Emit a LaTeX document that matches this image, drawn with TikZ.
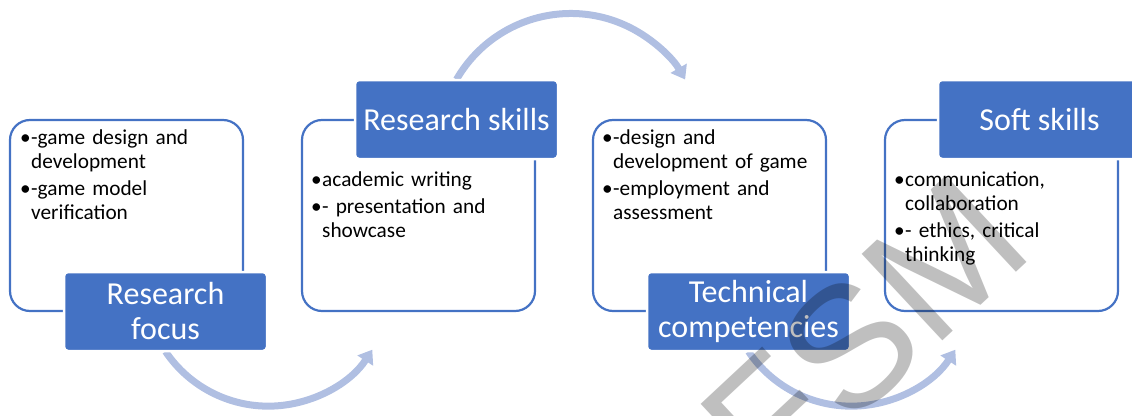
\documentclass[tikz,border=0pt]{standalone}
\usepackage{fontspec}
\setmainfont{Carlito}
\newfontfamily\wmfont{Liberation Sans}
\usetikzlibrary{arrows.meta, positioning}
\definecolor{accentblue}{HTML}{4472C4}
\definecolor{arcblue}{HTML}{B0BFE2}
\newcommand{\bitem}[1]{\hangindent=11pt\hangafter=1\noindent\makebox[11pt][l]{\textbullet}#1\par}

\begin{document}
\begin{tikzpicture}[x=1pt, y=1pt,
    panel/.style={rectangle, rounded corners=20pt, draw=accentblue, line width=2.2pt, minimum width=233pt, minimum height=191pt},
    label/.style={rectangle, rounded corners=4pt, fill=accentblue, draw=white, line width=2.5pt, minimum width=203pt, minimum height=79pt, text=white, align=center, font=\fontsize{32}{35}\selectfont},
    items/.style={anchor=north west, text width=210pt, inner sep=0pt, align=left, font=\fontsize{21.3}{24}\selectfont, execute at begin node={\setlength{\parskip}{3pt}}},
    flow/.style={draw=arcblue, line width=7pt, -{Triangle[width=18pt,length=13pt]}},
    wm/.style={rotate=43, text=black, text opacity=0.25, font=\wmfont\fontsize{172}{172}\selectfont}
]
\useasboundingbox (0,0) rectangle (1132,-415);

% Title box positions
\coordinate (rfpos) at (165.5,-311.5);
\coordinate (rspos) at (456.5,-119.5);
\coordinate (tcpos) at (748.5,-311.5);

% Arcs
\draw[flow] ([yshift=-40pt]rfpos) arc[start angle=214, end angle=327, radius=124pt];
\draw[flow] ([yshift=40pt]rspos) arc[start angle=150, end angle=30, radius=132pt];
\draw[flow] ([yshift=-40pt]tcpos) arc[start angle=214, end angle=327, radius=124pt];

% Outline boxes
\node[panel] (rfbox) at (126.5,-215.5) {};
\node[panel] (rsbox) at (418.5,-215.5) {};
\node[panel] (tcbox) at (709.5,-215.5) {};
\node[panel] (ssbox) at (1001.5,-215.5) {};

% Title boxes
\node[label] (rf) at (rfpos) {Research\\focus};
\node[label] (rs) at (rspos) {Research skills};
\node[label] (tc) at (tcpos) {Technical\\competencies};
\node[label] (ss) at (1039.5,-119.5) {Soft skills};

% Bullet texts
\node[items] (rftext) at (20,-130) {\bitem{-game design and\newline development}\bitem{-game model\newline verification}};
\node[items] (rstext) at (311,-172) {\bitem{academic writing}\bitem{- presentation and\newline showcase}};
\node[items] (tctext) at (602,-130) {\bitem{-design and\newline development of game}\bitem{-employment and\newline assessment}};
\node[items] (sstext) at (894,-172) {\bitem{communication,\newline collaboration}\bitem{- ethics, critical\newline thinking}};

% Watermark
\node[wm] (fsm) at (864,-333) {FSM};

\end{tikzpicture}
\end{document}
